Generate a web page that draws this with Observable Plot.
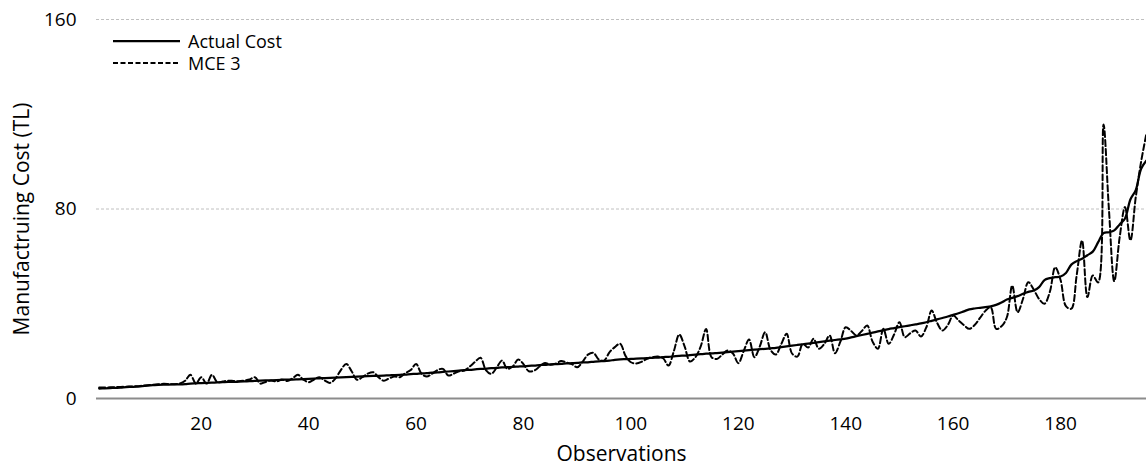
<!DOCTYPE html>
<html><head><meta charset="utf-8">
<script src="https://cdn.jsdelivr.net/npm/d3@7"></script>
<script src="https://cdn.jsdelivr.net/npm/@observablehq/plot@0.6"></script>
<style>
body{margin:0;background:#fff;}
#wrap{position:relative;width:1146px;height:470px;font-family:"Open Sans",sans-serif;overflow:hidden;}
#legend{position:absolute;left:113px;top:30px;font-size:18px;color:#000;}
#legend .row{display:flex;align-items:center;height:22px;line-height:22px;}
#legend svg{margin-right:8px;}
</style></head><body><div id="wrap"></div>
<script>
const seriesNames = ["Actual Cost", "MCE 3"];
const xTicks = [20, 40, 60, 80, 100, 120, 140, 160, 180];
const yTicks = [0, 80, 160];
const actualCost = [
4.2,4.3,4.4,4.5,4.6,4.8,4.9,5.0,5.2,5.4,
5.6,5.8,5.9,5.9,6.0,6.0,6.1,6.3,6.4,6.5,
6.6,6.7,6.8,6.9,7.0,7.0,7.1,7.2,7.3,7.4,
7.5,7.6,7.7,7.8,7.9,8.0,8.0,8.1,8.2,8.3,
8.4,8.5,8.6,8.7,8.8,8.9,9.0,9.1,9.2,9.3,
9.4,9.5,9.6,9.7,9.8,9.9,10.0,10.1,10.3,10.4,
10.6,10.7,10.9,11.0,11.2,11.4,11.6,11.8,12.0,12.1,
12.3,12.5,12.6,12.8,12.9,13.1,13.2,13.4,13.5,13.6,
13.8,13.9,14.1,14.2,14.4,14.5,14.6,14.8,14.9,15.0,
15.2,15.3,15.5,15.7,15.8,16.0,16.3,16.5,16.6,16.7,
16.8,16.9,17.0,17.2,17.3,17.5,17.6,17.8,18.0,18.1,
18.3,18.5,18.7,18.9,19.0,19.2,19.4,19.6,19.8,20.0,
20.2,20.4,20.6,20.8,21.0,21.2,21.4,21.7,22.0,22.3,
22.6,22.9,23.2,23.5,23.8,24.1,24.4,24.7,25.0,25.3,
25.8,26.3,26.8,27.3,27.8,28.3,28.8,29.3,29.7,30.1,
30.5,30.9,31.3,31.7,32.2,32.8,33.4,34.0,34.6,35.3,
36.0,36.8,37.6,38.0,38.3,38.6,38.9,39.5,40.5,41.8,
42.5,43.2,44.2,45.0,45.6,47.0,50.0,50.8,51.2,51.5,
53.0,56.5,58.0,59.0,60.5,62.0,66.0,69.8,70.2,71.0,
73.5,76.0,84.0,88.0,97.0,100.5
];
const mce3 = [
4.6,4.6,4.7,4.8,4.9,5.0,5.1,5.2,5.4,5.6,
5.8,6.0,6.2,6.1,6.0,6.3,7.5,10.0,6.3,9.0,
6.3,10.0,6.9,7.2,7.5,7.4,7.3,7.6,8.0,9.0,
6.3,7.0,7.6,7.2,8.0,7.4,8.5,10.0,8.0,6.9,
8.0,9.0,7.6,6.6,8.5,12.0,14.6,11.5,7.9,9.0,
10.5,11.1,9.0,7.5,8.5,9.3,9.0,10.7,12.0,14.6,
10.5,9.3,10.5,12.0,12.5,9.7,10.5,11.5,11.8,13.5,
15.5,17.2,12.0,10.4,13.0,16.0,12.5,13.5,16.5,14.5,
11.5,11.8,13.5,15.0,14.2,14.7,15.8,15.2,14.5,13.2,
15.5,18.5,19.3,16.5,16.0,19.5,21.7,23.1,18.0,15.3,
14.8,15.5,16.8,17.4,17.7,17.0,13.9,20.0,27.0,22.0,
15.6,17.4,22.0,29.3,17.5,16.7,18.5,20.3,19.0,14.9,
20.0,24.9,17.4,22.0,28.0,20.5,18.6,23.0,27.3,19.0,
17.7,23.1,21.5,25.2,21.0,23.0,26.6,19.1,24.0,30.1,
28.5,26.6,28.5,30.8,24.0,21.0,29.4,23.1,27.0,32.2,
25.9,27.5,28.7,26.2,30.0,37.1,32.0,28.7,31.0,35.0,
33.0,31.0,29.4,31.0,34.0,37.0,38.5,29.4,30.5,34.3,
47.7,36.4,42.0,49.1,46.0,42.0,40.0,45.0,55.4,50.0,
39.0,37.9,52.0,66.7,42.8,51.9,49.0,115.7,80.0,49.5,
68.0,80.8,66.7,85.0,100.0,112.0
];
const observations = actualCost.map((_, i) => i + 1);
const rows = observations.map((o, i) => ({obs: o, actual: actualCost[i], mce: mce3[i]}));

const chart = Plot.plot({
  width: 1146, height: 470,
  marginLeft: 96, marginRight: 0, marginTop: 19, marginBottom: 72,
  style: {fontFamily: "'Open Sans', sans-serif", fontSize: "19px", color: "#000", background: "#fff"},
  x: {domain: [0.5, 196], label: null},
  y: {domain: [0, 160], label: null},
  marks: [
    Plot.ruleY([80, 160], {stroke: "#c0c0c0", strokeWidth: 1, strokeDasharray: "3,2"}),
    Plot.ruleY([0], {stroke: "#8c8c8c", strokeWidth: 2}),
    Plot.line(rows, {x: "obs", y: "mce", curve: "catmull-rom", stroke: "#000", strokeWidth: 2, strokeDasharray: "6,3", clip: true}),
    Plot.line(rows, {x: "obs", y: "actual", curve: "catmull-rom", stroke: "#000", strokeWidth: 2.25, clip: true}),
    Plot.axisX({ticks: xTicks, tickSize: 0, tickPadding: 18, fontSize: 19, label: null}),
    Plot.axisY({ticks: yTicks, tickSize: 0, tickPadding: 20, fontSize: 19, label: null}),
    Plot.text(["Observations"], {frameAnchor: "bottom", dy: 56, fontSize: 21, lineAnchor: "middle"}),
    Plot.text(["Manufactruing Cost (TL)"], {frameAnchor: "left", dx: -74, dy: 10, rotate: -90, fontSize: 21, textAnchor: "middle", lineAnchor: "middle"})
  ]
});
const wrap = document.getElementById("wrap");
wrap.appendChild(chart);

const legend = d3.select(wrap).append("div").attr("id", "legend");
const dashes = [null, "5,2.5"];
seriesNames.forEach((name, i) => {
  const row = legend.append("div").attr("class", "row");
  const s = row.append("svg").attr("width", 67).attr("height", 8);
  s.append("line").attr("x1", 0).attr("x2", 67).attr("y1", 4).attr("y2", 4)
    .attr("stroke", "#000").attr("stroke-width", i === 0 ? 2.25 : 2)
    .attr("stroke-dasharray", dashes[i]);
  row.append("span").text(name);
});
</script>
</body></html>
